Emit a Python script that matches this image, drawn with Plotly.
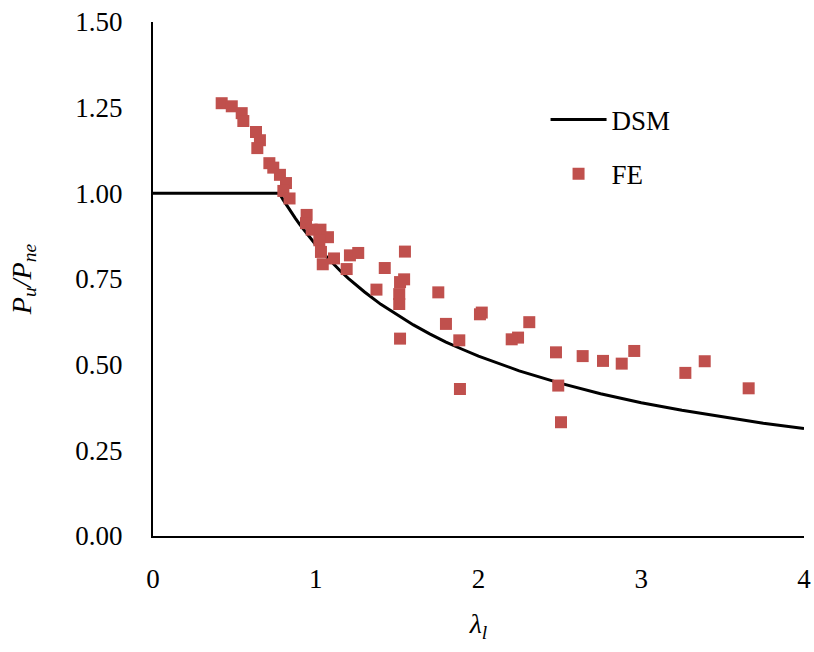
import plotly.graph_objects as go

# DSM curve
dsm_x = [0.0, 0.776, 0.80, 0.825, 0.85, 0.875, 0.90, 0.95, 1.00, 1.05, 1.10, 1.15, 1.20, 1.25,
         1.30, 1.40, 1.50, 1.60, 1.70, 1.80, 1.90, 2.00, 2.25, 2.50, 2.75, 3.00, 3.25, 3.50,
         3.75, 4.00]
dsm_y = [1.0, 1.0, 0.981, 0.962, 0.944, 0.927, 0.910, 0.879, 0.850, 0.823, 0.798, 0.774, 0.752,
         0.732, 0.712, 0.676, 0.645, 0.616, 0.590, 0.566, 0.545, 0.525, 0.482, 0.446, 0.415,
         0.389, 0.367, 0.347, 0.329, 0.314]

# FE results
fe_x = [0.422, 0.484, 0.545, 0.555, 0.633, 0.657, 0.641, 0.715, 0.739, 0.780, 0.817, 0.801, 0.839,
        0.944, 0.940, 0.975, 1.029, 1.075, 1.022, 1.032, 1.043, 1.112, 1.210, 1.261, 1.190, 1.424,
        1.548, 1.543, 1.518, 1.373, 1.513, 1.513, 1.518, 1.753, 2.020, 2.009, 1.800, 1.882, 1.886,
        2.312, 2.243, 2.204, 2.476, 2.490, 2.507, 2.640, 2.765, 2.880, 2.957, 3.271, 3.390, 3.660]
fe_y = [1.263, 1.254, 1.234, 1.211, 1.179, 1.155, 1.132, 1.088, 1.075, 1.054, 1.030, 1.007, 0.985,
        0.937, 0.913, 0.894, 0.894, 0.872, 0.863, 0.829, 0.793, 0.810, 0.819, 0.826, 0.779, 0.782,
        0.830, 0.749, 0.741, 0.719, 0.706, 0.677, 0.576, 0.711, 0.652, 0.647, 0.619, 0.571, 0.429,
        0.624, 0.579, 0.574, 0.536, 0.439, 0.332, 0.525, 0.511, 0.503, 0.540, 0.476, 0.510, 0.431]

x_ticks = [0, 1, 2, 3, 4]
y_ticks = [0.0, 0.25, 0.5, 0.75, 1.0, 1.25, 1.5]

font_family = "Liberation Serif"

fig = go.Figure()
fig.add_trace(go.Scatter(x=dsm_x, y=dsm_y, mode="lines", name="DSM", legendgroup="a",
                         line=dict(color="black", width=3)))
fig.add_trace(go.Scatter(x=fe_x, y=fe_y, mode="markers", name="FE", legendgroup="b",
                         marker=dict(symbol="square", size=12, color="#C0504D",
                                     line=dict(width=0))))

fig.update_layout(
    width=814, height=652,
    margin=dict(l=153, r=10, t=22, b=116, autoexpand=False),
    paper_bgcolor="white", plot_bgcolor="white",
    font=dict(family=font_family, size=27, color="black"),
    showlegend=True,
    legend=dict(x=0.603, y=0.857, xanchor="left", yanchor="top", tracegroupgap=16,
                bgcolor="rgba(0,0,0,0)", font=dict(family=font_family, size=27), itemwidth=56),
)
fig.update_xaxes(range=[0, 4], tickvals=x_ticks, ticktext=[str(v) for v in x_ticks],
                 showgrid=False, zeroline=False, showline=True, linecolor="black", linewidth=2,
                 ticks="", ticklabelstandoff=18, tickfont=dict(family=font_family, size=27),
                 automargin=False,
                 title=dict(text="<i>λ<sub>l</sub></i>", font=dict(family=font_family, size=28),
                            standoff=20))
fig.update_yaxes(range=[0, 1.5], tickvals=y_ticks, ticktext=[f"{v:.2f}" for v in y_ticks],
                 showgrid=False, zeroline=False, showline=True, linecolor="black", linewidth=2,
                 ticks="", ticklabelstandoff=23, tickfont=dict(family=font_family, size=27),
                 automargin=False,
                 title=dict(text="<i>P<sub>u</sub>/P<sub>ne</sub></i>",
                            font=dict(family=font_family, size=28), standoff=36))

fig.write_html("out.html")
